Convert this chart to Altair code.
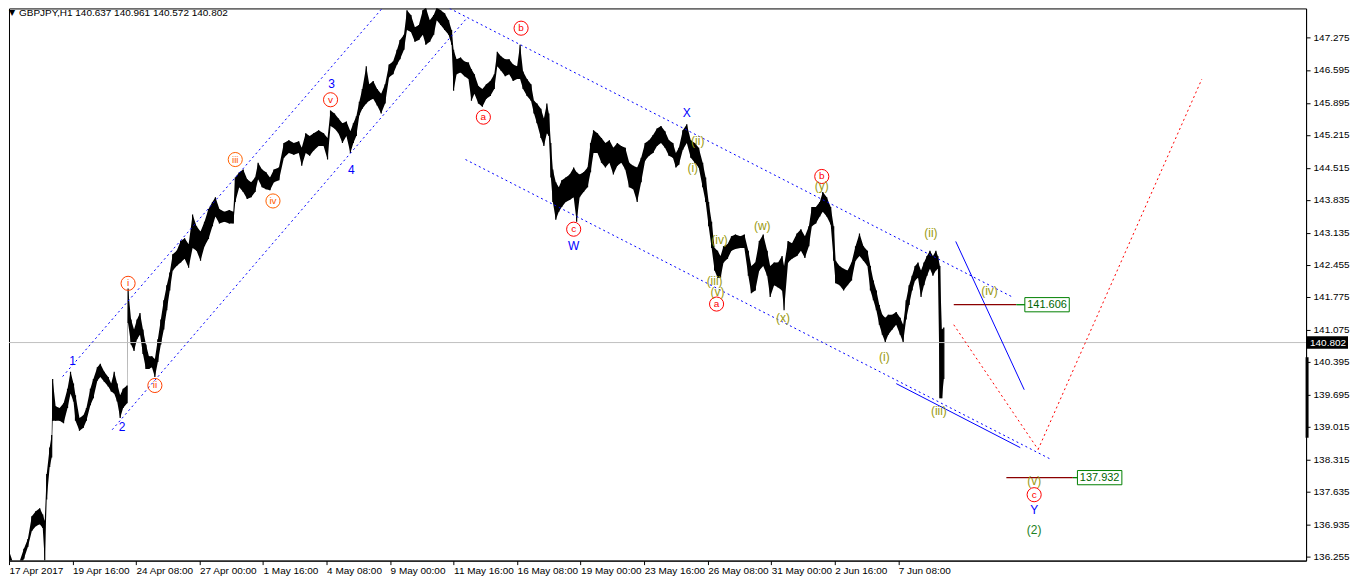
import altair as alt
import pandas as pd

bars = [0, 5, 10, 15, 19, 23, 27, 31, 34, 36, 38, 41, 43, 44, 47, 51, 55, 59, 62, 65,
        67, 71, 75, 78, 82, 85, 89, 92, 96, 100, 103, 106, 109, 112, 115, 119, 120, 123, 126, 129,
        132, 135, 138, 141, 144, 147, 150, 153, 156, 159, 162, 165, 169, 173, 177, 181, 185, 189, 193, 197,
        201, 205, 208, 212, 217, 222, 226, 228, 232, 236, 240, 244, 248, 251, 255, 259, 263, 267, 272, 277,
        282, 287, 292, 295, 299, 303, 307, 312, 317, 321, 324, 328, 332, 336, 340, 344, 347, 350, 353, 356,
        360, 363, 367, 371, 375, 379, 383, 387, 391, 394, 398, 401, 405, 409, 413, 417, 420, 424, 428, 431,
        435, 439, 443, 446, 448, 451, 455, 459, 463, 466, 469, 473, 477, 481, 485, 489, 492, 496, 500, 504,
        508, 512, 515, 518, 522, 526, 529, 532, 536, 539, 542, 544, 546, 548, 551, 554, 557, 561, 565, 569,
        572, 575, 579, 583, 586, 589, 593, 597, 601, 605, 609, 613, 617, 621, 625, 629, 633, 637, 641, 645,
        649, 653, 657, 661, 665, 669, 672, 675, 679, 683, 687, 691, 695, 699, 702, 705, 708, 711, 714, 717,
        720, 724, 728, 732, 737, 741, 745, 748, 752, 756, 760, 764, 767, 771, 775, 779, 781, 785, 789, 794,
        798, 802, 806, 809, 813, 817, 820, 824, 828, 831, 833, 837, 841, 845, 849, 853, 857, 861, 865, 868,
        871, 874, 877, 880, 883, 886, 890, 894, 898, 901, 904, 907, 910, 913, 916, 919, 922, 925, 928, 931,
        934, 936, 938, 940, 942]
highs = [136.38, 136.07, 136.11, 136.42, 136.63, 137.11, 137.22, 137.28, 137.15, 137.01, 138.01, 138.57, 138.84, 140.03, 139.45, 139.41, 139.51, 139.82, 140.18, 139.93,
         139.68, 139.20, 139.26, 139.41, 139.82, 140.03, 140.28, 140.35, 140.18, 140.07, 139.93, 140.18, 139.93, 139.68, 139.82, 139.89, 141.95, 141.29, 141.08, 141.29,
         141.43, 141.08, 140.76, 140.51, 140.51, 140.45, 140.87, 141.29, 141.70, 142.02, 142.29, 142.68, 142.75, 142.96, 143.02, 142.89, 143.52, 143.27, 143.16, 143.37,
         143.64, 143.79, 143.89, 143.64, 143.58, 143.62, 143.58, 144.31, 144.42, 144.48, 144.27, 144.21, 144.31, 144.62, 144.48, 144.42, 144.31, 144.48, 144.52, 145.04,
         145.10, 145.04, 145.08, 144.94, 145.25, 145.19, 145.25, 145.31, 145.25, 145.15, 145.73, 145.67, 145.56, 145.46, 145.50, 145.29, 145.46, 145.61, 145.92, 146.19,
         146.67, 146.29, 146.36, 146.19, 146.09, 146.29, 146.71, 146.77, 147.02, 147.23, 147.34, 147.86, 147.76, 147.50, 147.55, 147.86, 147.92, 147.65, 147.76, 147.92,
         147.86, 147.80, 147.65, 147.44, 147.02, 146.82, 146.86, 146.77, 146.75, 146.61, 146.50, 146.25, 146.19, 146.29, 146.36, 146.50, 146.98, 146.88, 146.82, 146.82,
         146.71, 146.67, 147.13, 146.56, 146.40, 146.29, 145.94, 145.88, 145.77, 145.56, 145.88, 145.67, 145.04, 144.48, 144.21, 144.10, 144.25, 144.31, 144.37, 144.52,
         144.42, 144.37, 144.42, 144.52, 145.04, 145.31, 145.25, 145.15, 145.04, 145.10, 144.94, 145.04, 144.98, 144.94, 144.62, 144.56, 144.52, 144.73, 145.04, 145.10,
         145.21, 145.35, 145.40, 145.29, 145.10, 145.04, 144.83, 144.94, 145.31, 145.44, 145.10, 145.04, 144.94, 144.62, 144.31, 143.79, 143.37, 142.81, 142.75, 142.64,
         142.85, 142.89, 143.06, 143.10, 143.06, 143.10, 142.75, 142.43, 142.50, 142.96, 143.10, 142.75, 142.43, 142.50, 142.50, 142.64, 142.43, 142.96, 142.91, 143.12,
         143.21, 143.06, 143.27, 143.68, 143.68, 143.79, 144.00, 143.89, 143.68, 143.27, 142.54, 142.43, 142.37, 142.33, 142.50, 142.85, 143.12, 142.85, 142.75, 142.43,
         142.12, 141.91, 141.60, 141.39, 141.33, 141.39, 141.39, 141.45, 141.33, 141.18, 141.70, 142.02, 142.22, 142.43, 142.50, 142.33, 142.50, 142.64, 142.75, 142.64,
         142.75, 142.64, 142.43, 141.08, 141.12]
lows = [136.21, 135.88, 135.90, 136.21, 136.46, 136.80, 136.90, 136.94, 136.86, 136.17, 137.47, 138.16, 138.36, 139.14, 139.14, 139.14, 139.09, 139.41, 139.72, 139.55,
        139.14, 138.93, 138.99, 139.14, 139.47, 139.62, 139.99, 140.07, 139.97, 139.87, 139.76, 139.72, 139.55, 139.20, 139.41, 139.51, 141.22, 140.76, 140.62, 140.87,
        140.97, 140.56, 140.24, 140.24, 140.28, 140.07, 140.39, 140.76, 141.08, 141.49, 141.91, 142.33, 142.43, 142.50, 142.58, 142.39, 142.81, 142.75, 142.54, 142.85,
        143.00, 143.27, 143.48, 143.33, 143.37, 143.33, 143.33, 143.79, 144.10, 144.00, 143.85, 143.89, 144.00, 144.27, 144.10, 144.06, 144.04, 144.21, 144.25, 144.73,
        144.83, 144.79, 144.83, 144.56, 144.83, 144.77, 144.88, 144.98, 144.98, 144.69, 145.40, 145.35, 145.25, 145.04, 145.19, 144.83, 145.04, 145.19, 145.63, 145.77,
        145.88, 145.94, 145.98, 145.84, 145.67, 145.88, 146.44, 146.50, 146.71, 146.82, 147.02, 147.44, 147.40, 147.19, 147.23, 147.34, 147.13, 147.19, 147.34, 147.65,
        147.55, 147.44, 147.34, 147.13, 146.15, 146.50, 146.54, 146.46, 146.40, 145.94, 146.09, 145.88, 145.81, 145.98, 146.04, 146.19, 146.67, 146.57, 146.46, 146.50,
        146.36, 146.40, 146.40, 146.19, 146.04, 145.94, 145.67, 145.46, 145.15, 144.98, 145.25, 145.19, 144.31, 143.79, 143.41, 143.58, 143.68, 143.79, 143.83, 143.89,
        143.37, 143.89, 144.00, 144.10, 144.42, 144.83, 144.83, 144.62, 144.52, 144.62, 144.37, 144.56, 144.62, 144.48, 144.10, 144.06, 143.79, 144.21, 144.67, 144.77,
        144.83, 144.98, 145.04, 144.94, 144.77, 144.73, 144.52, 144.58, 144.90, 145.04, 144.73, 144.62, 144.52, 144.10, 143.79, 143.27, 142.81, 142.33, 142.18, 142.18,
        142.50, 142.58, 142.75, 142.79, 142.81, 142.81, 142.22, 141.85, 141.91, 142.33, 142.43, 142.22, 141.77, 142.02, 141.97, 141.91, 141.49, 142.50, 142.58, 142.64,
        142.75, 142.60, 142.85, 143.27, 143.33, 143.48, 143.58, 143.48, 143.31, 142.54, 142.06, 142.02, 141.91, 142.02, 142.12, 142.54, 142.64, 142.54, 142.43, 141.91,
        141.70, 141.49, 141.18, 140.97, 140.81, 140.97, 141.08, 141.18, 140.97, 140.81, 141.29, 141.60, 141.91, 142.12, 142.18, 141.77, 142.02, 142.22, 142.37, 142.22,
        142.33, 142.37, 139.62, 139.62, 140.03]

last_price = 140.802
header = "GBPJPY,H1  140.637 140.961 140.572 140.802"

x_ticks = [0, 64, 128, 192, 256, 320, 384, 448, 512, 576, 640, 704, 768, 832, 896]
x_labels = ["17 Apr 2017", "19 Apr 16:00", "24 Apr 08:00", "27 Apr 00:00", "1 May 16:00",
            "4 May 08:00", "9 May 00:00", "11 May 16:00", "16 May 08:00", "19 May 00:00",
            "23 May 16:00", "26 May 08:00", "31 May 00:00", "2 Jun 16:00", "7 Jun 08:00"]
y_ticks = [147.275, 146.595, 145.895, 145.215, 144.515, 143.835, 143.135, 142.455, 141.775,
           141.075, 140.395, 139.695, 139.015, 138.315, 137.635, 136.935, 136.255]

# trend lines (bar, price) -> (bar2, price2)
blue_dot = {"bar": [54, 104, 444, 460], "price": [140.08, 138.95, 147.90, 144.69],
            "bar2": [376, 462, 1012, 1050], "price2": [147.90, 147.71, 141.76, 138.32]}
blue_solid = {"bar": [894, 954], "price": [139.93, 142.95],
              "bar2": [1019, 1023], "price2": [138.57, 139.80]}
red_dot = {"bar": [952, 1037], "price": [141.18, 138.53],
           "bar2": [1037, 1202], "price2": [138.53, 146.40]}
level_values = [141.606, 137.932]
level_red_start = [952, 1005]
level_red_end = [1015, 1072]
level_green_end = [1025, 1077]
level_box_bar = [1046, 1099]

# wave labels
blue_lbl = {"text": ["1", "2", "3", "4", "W", "X", "Y"],
            "bar": [64, 114, 325, 345, 569, 683, 1033],
            "price": [140.41, 139.01, 146.29, 144.46, 142.85, 145.67, 137.24]}
circ_lbl = {"text": ["i", "ii", "iii", "iv", "v", "a", "b", "c", "a", "b", "c"],
            "bar": [120, 147, 228, 266, 324, 478, 516, 569, 713, 819, 1033],
            "price": [142.06, 139.89, 144.69, 143.81, 145.96, 145.59, 147.48, 143.21, 141.62, 144.33, 137.57],
            "col": ["#ff4000", "#ff4000", "#ff6000", "#ff6000", "#ff2000", "#ff0000", "#ff0000", "#ff0000", "#ff0000", "#ff0000", "#ff0000"]}
olive_lbl = {"text": ["(ii)", "(i)", "(iv)", "(iii)", "(v)", "(w)", "(x)", "(y)", "(i)", "(ii)", "(iii)", "(iv)", "(v)"],
             "bar": [694, 689, 716, 711, 714, 759, 780, 819, 882, 929, 937, 988, 1033],
             "price": [145.08, 144.50, 142.98, 142.10, 141.88, 143.27, 141.33, 144.12, 140.49, 143.12, 139.34, 141.89, 137.86]}
green_lbl = {"text": ["(2)"], "bar": [1033], "price": [136.82]}

axis_bar_top, axis_bar_bottom = 140.49, 138.78

# ---------------- chart ----------------
W, H = 1299, 553
FONT = "Liberation Sans"
xs = alt.Scale(domain=[0, 1307], nice=False, zero=False)
ys = alt.Scale(domain=[136.17, 147.90], nice=False, zero=False)

label_expr = "[" + ",".join("'%s'" % s for s in x_labels) + "][round(datum.value/64)]"

x_axis = alt.Axis(orient="bottom", values=x_ticks, labelExpr=label_expr, labelAlign="left",
                  labelPadding=1, tickSize=4, tickColor="black", domainColor="black",
                  labelColor="black", labelFont=FONT, labelFontSize=10, grid=False, title=None,
                  labelFlush=False, labelOverlap=False)
y_axis = alt.Axis(orient="right", values=y_ticks, format=".3f", tickSize=4, tickColor="black",
                  domainColor="black", labelColor="black", labelFont=FONT, labelFontSize=10,
                  grid=False, title=None, labelPadding=3, labelOverlap=False)


def X(f):
    return alt.X(f + ":Q", scale=xs, axis=x_axis)


def Y(f):
    return alt.Y(f + ":Q", scale=ys, axis=y_axis)


price_df = pd.DataFrame({"bar": bars, "high": highs, "low": lows})

area = alt.Chart(price_df).mark_area(color="black", clip=True, interpolate="linear").encode(
    x=X("bar"), y=Y("low"), y2="high:Q")
rules = alt.Chart(price_df).mark_rule(color="black", strokeWidth=1.2, clip=True).encode(
    x=X("bar"), y=Y("low"), y2="high:Q")

last_df = pd.DataFrame({"price": [last_price], "txt": ["%.3f" % last_price]})
last_line = alt.Chart(last_df).mark_rule(color="#c0c0c0", strokeWidth=1).encode(y=Y("price"))


def seg_layer(d, color, dash=None, width=1):
    kw = dict(color=color, strokeWidth=width, clip=True)
    if dash:
        kw["strokeDash"] = dash
    return alt.Chart(pd.DataFrame(d)).mark_rule(**kw).encode(
        x=X("bar"), y=Y("price"), x2="bar2:Q", y2="price2:Q")


l_blue_dot = seg_layer(blue_dot, "#0000ff", [2, 3])
l_blue_solid = seg_layer(blue_solid, "#0000ff")
l_red_dot = seg_layer(red_dot, "#ff0000", [2, 3])

lev_df = pd.DataFrame({"price": level_values, "bar": level_red_start, "bar2": level_red_end,
                       "g2": level_green_end, "bx": level_box_bar,
                       "txt": ["%.3f" % v for v in level_values]})
l_lev_red = alt.Chart(lev_df).mark_rule(color="#8b0000", strokeWidth=1.3).encode(
    x=X("bar"), x2="bar2:Q", y=Y("price"))
l_lev_green = alt.Chart(lev_df).mark_rule(color="#008000", strokeWidth=1.3).encode(
    x=X("bar2"), x2="g2:Q", y=Y("price"))
box_path = "M-1,-0.32L1,-0.32L1,0.32L-1,0.32Z"
l_lev_box = alt.Chart(lev_df).mark_point(shape=box_path, size=1980, filled=True, fill="white",
                                         stroke="#008000", strokeWidth=1, opacity=1).encode(
    x=X("bx"), y=Y("price"))
l_lev_txt = alt.Chart(lev_df).mark_text(color="#006400", font=FONT, fontSize=11, align="center",
                                        baseline="middle").encode(
    x=X("bx"), y=Y("price"), text="txt:N")

l_blue_txt = alt.Chart(pd.DataFrame(blue_lbl)).mark_text(color="#0000ff", font=FONT, fontSize=12,
                                                         baseline="middle").encode(
    x=X("bar"), y=Y("price"), text="text:N")
circ_df = pd.DataFrame(circ_lbl)
l_circ = alt.Chart(circ_df).mark_point(shape="circle", size=200, filled=False, strokeWidth=1,
                                       opacity=1).encode(
    x=X("bar"), y=Y("price"), color=alt.Color("col:N", scale=None))
l_circ_txt = alt.Chart(circ_df).mark_text(font=FONT, fontSize=10, baseline="middle").encode(
    x=X("bar"), y=Y("price"), text="text:N", color=alt.Color("col:N", scale=None))
l_olive_txt = alt.Chart(pd.DataFrame(olive_lbl)).mark_text(color="#9a9a10", font=FONT, fontSize=12,
                                                           baseline="middle").encode(
    x=X("bar"), y=Y("price"), text="text:N")
l_green_txt = alt.Chart(pd.DataFrame(green_lbl)).mark_text(color="#208020", font=FONT, fontSize=12,
                                                           baseline="middle").encode(
    x=X("bar"), y=Y("price"), text="text:N")

# current price tag on the axis
tag_path = "M-1,-0.3L1,-0.3L1,0.3L-1,0.3Z"
l_tag = alt.Chart(last_df).mark_point(shape=tag_path, size=1764, filled=True, color="black",
                                      opacity=1).encode(x=alt.value(W + 21), y=Y("price"))
l_tag_txt = alt.Chart(last_df).mark_text(color="white", font=FONT, fontSize=10, align="center",
                                         baseline="middle").encode(
    x=alt.value(W + 22), y=Y("price"), text="txt:N")

axbar_df = pd.DataFrame({"p1": [axis_bar_top], "p2": [axis_bar_bottom]})
l_axbar = alt.Chart(axbar_df).mark_rule(color="black", strokeWidth=3).encode(
    x=alt.value(W + 1), y=Y("p1"), y2="p2:Q")

head_df = pd.DataFrame({"t": [header]})
l_head = alt.Chart(head_df).mark_text(font=FONT, fontSize=10, color="black", align="left",
                                      baseline="middle").encode(
    x=alt.value(10), y=alt.value(5), text="t:N")
l_tri = alt.Chart(pd.DataFrame({"t": ["\u25bc"]})).mark_text(font="DejaVu Sans", fontSize=8,
                                                            color="black", align="left",
                                                            baseline="middle").encode(
    x=alt.value(0), y=alt.value(5), text="t:N")

chart = alt.layer(
    area, rules, last_line, l_blue_dot, l_blue_solid, l_red_dot,
    l_lev_red, l_lev_green, l_lev_box, l_lev_txt,
    l_blue_txt, l_circ, l_circ_txt, l_olive_txt, l_green_txt,
    l_tag, l_tag_txt, l_axbar, l_head, l_tri
).properties(
    width=W, height=H, padding={"left": 0, "top": 0, "right": 0, "bottom": 0},
    background="white"
).configure_view(stroke="black", strokeWidth=1)

chart.save("out.html", embed_options={"renderer": "svg", "actions": False})
